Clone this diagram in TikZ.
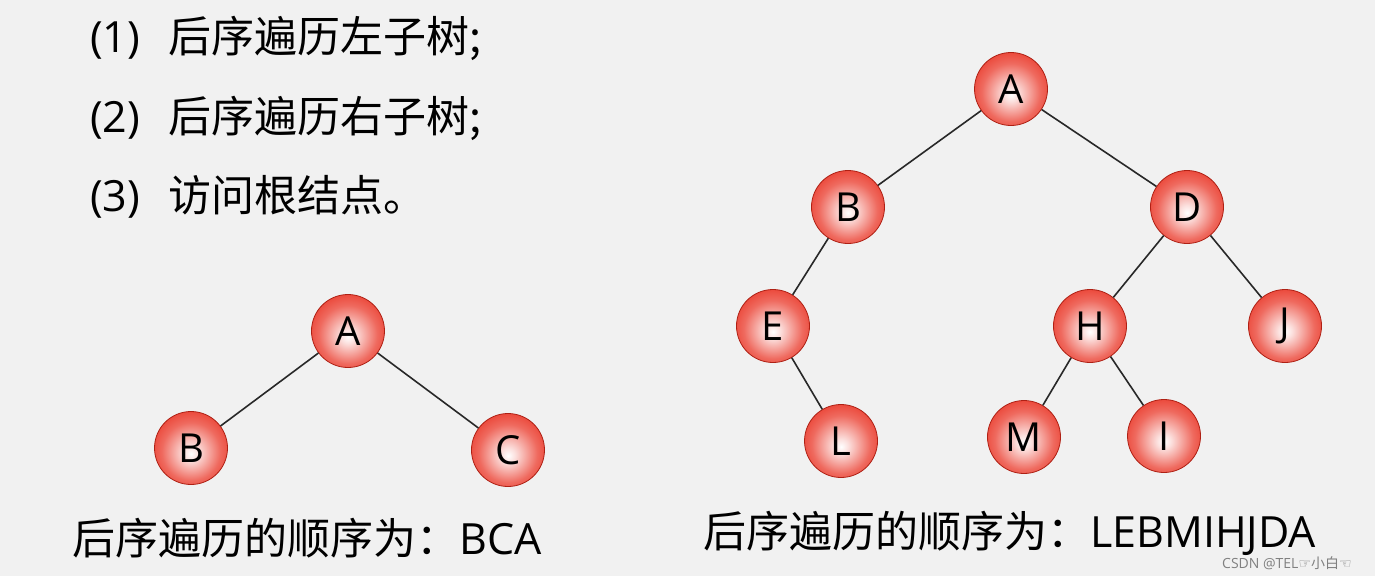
\documentclass[tikz,border=0pt]{standalone}
\usepackage{fontspec}
\setmainfont{Noto Sans CJK SC}
\newfontfamily\lat{Open Sans}
\newfontfamily\symfont{DejaVu Sans}
\definecolor{bg}{RGB}{241,241,241}
\definecolor{ballred}{RGB}{232,42,26}
\definecolor{edgegray}{RGB}{40,40,40}
\pgfdeclareradialshading{redball}{\pgfpoint{0bp}{-4bp}}{%
  color(0bp)=(white); color(5bp)=(white!85!ballred); color(20bp)=(ballred!70!white); color(34bp)=(ballred); color(50bp)=(ballred!92!black)}
\tikzset{
  ball/.style={circle, minimum size=73pt, inner sep=0pt, shading=redball, draw=ballred!75!black, line width=0.8pt, font=\lat\fontsize{40}{44}\selectfont},
  link/.style={draw=edgegray, line width=1.6pt},
  txt/.style={anchor=west, inner sep=0pt, font=\fontsize{43}{50}\selectfont}
}
\begin{document}
\begin{tikzpicture}[x=1pt,y=-1pt]
\fill[bg] (0,0) rectangle (1375,576);
\useasboundingbox (0,0) rectangle (1375,576);
% top text
\node[txt] (t1) at (90,38) {{\lat (1)}\hspace{28pt}后序遍历左子树;};
\node[txt] (t2) at (90,118) {{\lat (2)}\hspace{28pt}后序遍历右子树;};
\node[txt] (t3) at (90,197) {{\lat (3)}\hspace{28pt}访问根结点。};
% left tree
\node[ball] (la) at (348,331) {A};
\node[ball] (lb) at (191,448) {B};
\node[ball] (lc) at (508,450) {C};
\draw[link] (la) -- (lb);
\draw[link] (la) -- (lc);
% right tree
\node[ball] (a) at (1011,89) {A};
\node[ball] (b) at (848,207) {B};
\node[ball] (d) at (1187,207) {D};
\node[ball] (e) at (773,326) {E};
\node[ball] (h) at (1090,326) {H};
\node[ball] (j) at (1285,326) {J};
\node[ball] (l) at (841,441) {L};
\node[ball] (m) at (1024,437) {M};
\node[ball] (i) at (1164,436) {I};
\draw[link] (a) -- (b);
\draw[link] (a) -- (d);
\draw[link] (b) -- (e);
\draw[link] (e) -- (l);
\draw[link] (d) -- (h);
\draw[link] (d) -- (j);
\draw[link] (h) -- (m);
\draw[link] (h) -- (i);
% bottom texts
\node[txt] (s1) at (72,538) {后序遍历的顺序为：{\lat BCA}};
\node[txt] (s2) at (703,533) {后序遍历的顺序为：{\lat LEBMIHJDA}};
\node[anchor=west, inner sep=0pt, text=gray, font=\fontsize{14}{16}\selectfont] (wm) at (1222,563) {{\lat CSDN @TEL}{\symfont ☞}小白{\symfont ☜}};
\end{tikzpicture}
\end{document}
